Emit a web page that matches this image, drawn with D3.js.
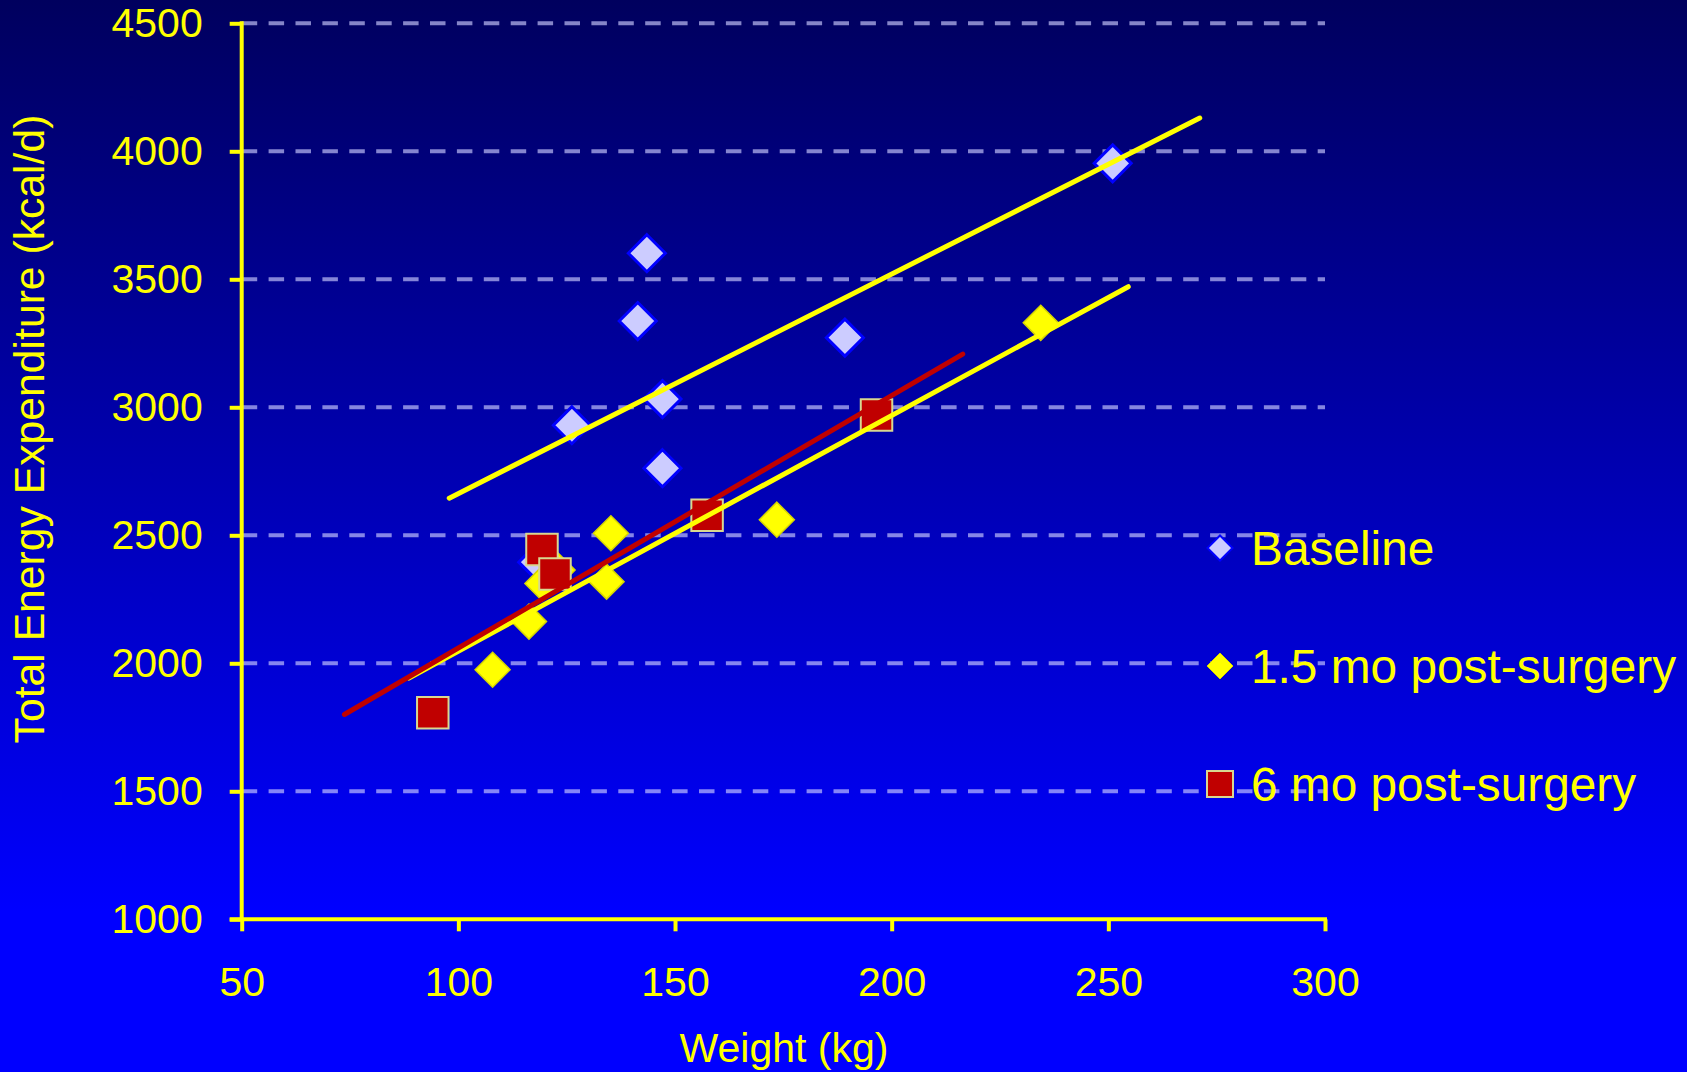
<!DOCTYPE html>
<html>
<head>
<meta charset="utf-8">
<script src="https://cdn.jsdelivr.net/npm/d3@7"></script>
<style>
  html, body { margin: 0; padding: 0; background: #0000ff; }
  svg { display: block; }
  text { font-family: "Liberation Sans", Arial, Helvetica, sans-serif; fill: #ffff00; }
</style>
</head>
<body>
<svg id="chart" width="1687" height="1072"></svg>
<script>
// Body weight (kg) vs total energy expenditure (kcal/d) at three time points
const baselineWeight = [118.2, 126.2, 141.4, 143.5, 147.1, 147.1, 189.2, 251.0];
const baselineTEE    = [2395, 2930, 3337, 3602, 3032, 2762, 3272, 3953];

const post15Weight = [107.9, 116.3, 119.4, 122.9, 134.2, 135.2, 173.5, 234.4];
const post15TEE    = [1975, 2163, 2312, 2364, 2319, 2508, 2561, 3330];

const post6Weight = [94.1, 119.3, 122.3, 157.4, 196.5];
const post6TEE    = [1807, 2445, 2349, 2578, 2970];

// Linear trend lines, given as [weight, TEE] end points
const baselineFit = [[97.9, 2645], [271.1, 4130]];
const post15Fit   = [[88.6, 1942], [254.6, 3471]];
const post6Fit    = [[73.7, 1800], [216.4, 3208]];

const xTicks = [50, 100, 150, 200, 250, 300];
const yTicks = [1000, 1500, 2000, 2500, 3000, 3500, 4000, 4500];
const seriesLabels = ["Baseline", "1.5 mo post-surgery", "6 mo post-surgery"];

const svg = d3.select("#chart");
const W = 1687, H = 1072;

// background gradient: dark navy at the top to pure blue at the bottom
const defs = svg.append("defs");
const grad = defs.append("linearGradient")
  .attr("id", "bg").attr("x1", 0).attr("y1", 0).attr("x2", 0).attr("y2", 1);
grad.append("stop").attr("offset", "0%").attr("stop-color", "#00005e");
grad.append("stop").attr("offset", "85%").attr("stop-color", "#0000ff");
grad.append("stop").attr("offset", "100%").attr("stop-color", "#0000ff");
svg.append("rect").attr("width", W).attr("height", H).attr("fill", "url(#bg)");

const x = d3.scaleLinear().domain([50, 300]).range([241.7, 1325]);
const y = d3.scaleLinear().domain([1000, 4500]).range([919.3, 23.3]);

const yellow = "#ffff00";

// dashed horizontal gridlines
svg.append("g").selectAll("line")
  .data(yTicks.filter(t => t > 1000))
  .join("line")
  .attr("x1", x(50)).attr("x2", x(300))
  .attr("y1", d => y(d)).attr("y2", d => y(d))
  .attr("stroke", "rgba(204,204,255,0.65)")
  .attr("stroke-width", 4)
  .attr("stroke-dasharray", "15.5 11.4");

// axes
const yAxis = svg.append("g")
  .attr("transform", `translate(${x(50)},0)`)
  .call(d3.axisLeft(y).tickValues(yTicks).tickFormat(d3.format("d"))
    .tickSize(12).tickSizeOuter(0).tickPadding(27));
const xAxis = svg.append("g")
  .attr("transform", `translate(0,${y(1000)})`)
  .call(d3.axisBottom(x).tickValues(xTicks).tickFormat(d3.format("d"))
    .tickSize(12).tickSizeOuter(0).tickPadding(36));

[yAxis, xAxis].forEach(g => {
  g.select(".domain").attr("stroke", yellow).attr("stroke-width", 4);
  g.selectAll(".tick line").attr("stroke", yellow).attr("stroke-width", 4);
  g.selectAll(".tick text")
    .attr("fill", yellow)
    .style("font-size", "41px")
    .style("font-family", "'Liberation Sans', Arial, sans-serif");
});
// extend the y axis line down to the tick that crosses the x axis
yAxis.select(".domain").attr("d", `M0,${y(4500) - 2}V${y(1000) + 2}`);
xAxis.select(".domain").attr("d", `M${x(50) - 12},0H${x(300) + 2}`);

// axis titles
svg.append("text")
  .attr("x", 784).attr("y", 1062)
  .attr("text-anchor", "middle")
  .style("font-size", "41px")
  .text("Weight (kg)");
svg.append("text")
  .attr("transform", "translate(44,429) rotate(-90)")
  .attr("text-anchor", "middle")
  .style("font-size", "42.7px")
  .text("Total Energy Expenditure (kcal/d)");

// marker shapes
const diamond = r => `M0,${-r}L${r},0L0,${r}L${-r},0Z`;
const square = s => `M${-s / 2},${-s / 2}h${s}v${s}h${-s}Z`;

const styles = [
  { path: diamond(18.5), fill: "#ccccff", stroke: "#0000ff", sw: 3 },
  { path: diamond(17.5), fill: "#ffff00", stroke: "#d6d600", sw: 1.5 },
  { path: square(31.5), fill: "#c00000", stroke: "#d8d890", sw: 2 }
];

const zip = (a, b) => a.map((v, i) => [v, b[i]]);
const series = [
  zip(baselineWeight, baselineTEE),
  zip(post15Weight, post15TEE),
  zip(post6Weight, post6TEE)
];

series.forEach((pts, i) => {
  svg.append("g").selectAll("path")
    .data(pts)
    .join("path")
    .attr("transform", d => `translate(${x(d[0])},${y(d[1])})`)
    .attr("d", styles[i].path)
    .attr("fill", styles[i].fill)
    .attr("stroke", styles[i].stroke)
    .attr("stroke-width", styles[i].sw);
});

// trend lines
const line = d3.line().x(d => x(d[0])).y(d => y(d[1]));
[[baselineFit, yellow], [post15Fit, yellow], [post6Fit, "#c00000"]].forEach(([pts, c]) => {
  svg.append("path")
    .attr("d", line(pts))
    .attr("fill", "none")
    .attr("stroke", c)
    .attr("stroke-width", 5)
    .attr("stroke-linecap", "round");
});

// legend
const legendMarkers = [
  { path: diamond(12.5), fill: "#ccccff", stroke: "#0000ff", sw: 2 },
  { path: diamond(13), fill: "#ffff00", stroke: "#d6d600", sw: 1 },
  { path: square(26), fill: "#c00000", stroke: "#d8d890", sw: 2 }
];
const legendY = [548, 666, 784];
const legend = svg.append("g");
seriesLabels.forEach((label, i) => {
  legend.append("path")
    .attr("transform", `translate(1220,${legendY[i]})`)
    .attr("d", legendMarkers[i].path)
    .attr("fill", legendMarkers[i].fill)
    .attr("stroke", legendMarkers[i].stroke)
    .attr("stroke-width", legendMarkers[i].sw);
  legend.append("text")
    .attr("x", 1251).attr("y", legendY[i] + 17)
    .style("font-size", "47.8px")
    .text(label);
});
</script>
</body>
</html>
